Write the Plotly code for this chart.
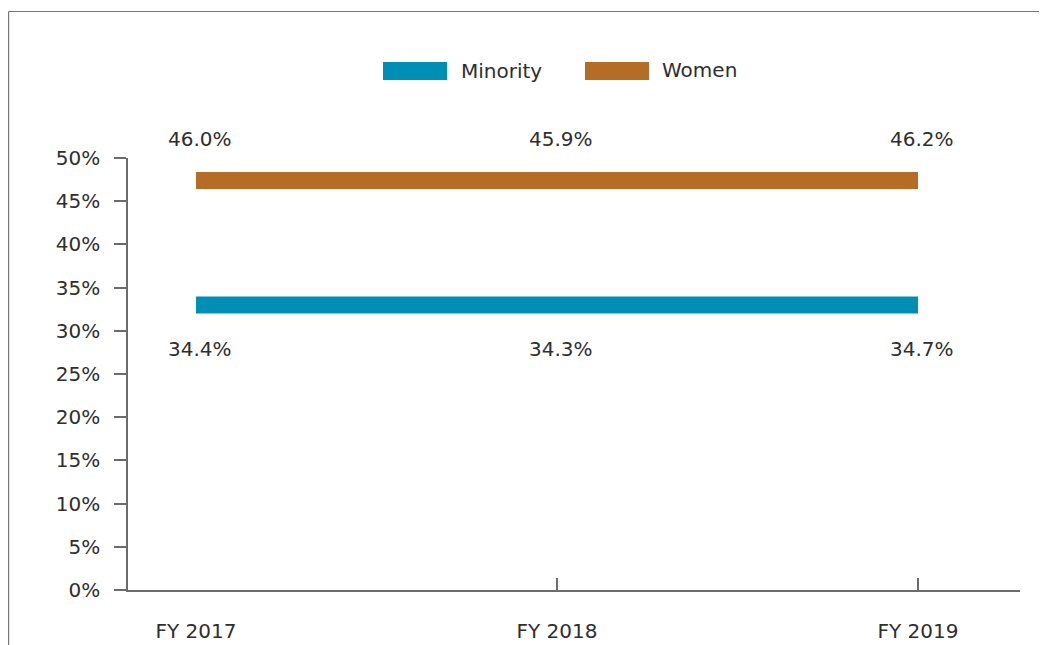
import plotly.graph_objects as go

# ---- data ----
categories = ["FY 2017", "FY 2018", "FY 2019"]
minority_labels = [34.4, 34.3, 34.7]
women_labels = [46.0, 45.9, 46.2]
# line positions as drawn in the reference chart
minority_line = [33.0, 33.0, 33.0]
women_line = [47.4, 47.4, 47.4]
series_names = ["Minority", "Women"]
colors = ["#008FB4", "#B56C26"]
y_ticks = [0, 5, 10, 15, 20, 25, 30, 35, 40, 45, 50]

W, H = 1047, 645
OFF = 8  # page offset of the figure in the browser
# plot area in reference-picture pixels
RL, RR, RT, RB = 128, 1020, 158, 590
L, R, T, B = RL - OFF, RR - OFF, RT - OFF, RB - OFF
TEXT = "#2e2e2e"
AX = "#6b6b6b"
FONT = "DejaVu Sans"
FS = 20

def px_x(p):  # reference x pixel -> paper
    return (p - OFF - L) / (R - L)

def px_y(p):  # reference y pixel -> paper
    return (B - (p - OFF)) / (B - T)

xi = list(range(len(categories)))
x_range = [-0.1884, 2.2825]

fig = go.Figure()
for name, vals, col in [(series_names[0], minority_line, colors[0]),
                        (series_names[1], women_line, colors[1])]:
    fig.add_trace(go.Scatter(x=xi, y=vals, mode="lines", name=name,
                             line=dict(color=col, width=17),
                             showlegend=False, hoverinfo="skip"))
# invisible trace to hold the tick-only axis
fig.add_trace(go.Scatter(x=[0], y=[0], xaxis="x2", mode="markers",
                         marker=dict(opacity=0), showlegend=False, hoverinfo="skip"))

annotations = []
for i, v in enumerate(women_labels):
    annotations.append(dict(x=xi[i], y=women_line[i], xref="x", yref="y",
                            text=f"{v:.1f}%", showarrow=False, xshift=4, yshift=41,
                            xanchor="center", yanchor="middle",
                            font=dict(family=FONT, size=FS, color=TEXT)))
for i, v in enumerate(minority_labels):
    annotations.append(dict(x=xi[i], y=minority_line[i], xref="x", yref="y",
                            text=f"{v:.1f}%", showarrow=False, xshift=4, yshift=-44,
                            xanchor="center", yanchor="middle",
                            font=dict(family=FONT, size=FS, color=TEXT)))

# manual legend
shapes = []
leg = [(383, 447, 459, 71), (585, 649, 660, 70)]
for (x0, x1, tx, ty), name, col in zip(leg, series_names, colors):
    shapes.append(dict(type="rect", xref="paper", yref="paper",
                       x0=px_x(x0), x1=px_x(x1), y0=px_y(80), y1=px_y(62),
                       fillcolor=col, line=dict(width=0)))
    annotations.append(dict(x=px_x(tx), y=px_y(ty), xref="paper", yref="paper",
                            text=name, showarrow=False, xanchor="left", yanchor="middle",
                            font=dict(family=FONT, size=FS, color=TEXT)))

# outer frame (top and left edges)
fx = px_x(OFF + 0.6)
fy = px_y(11.5)
shapes.append(dict(type="line", xref="paper", yref="paper",
                   x0=fx, x1=px_x(1080), y0=fy, y1=fy,
                   line=dict(color="#777777", width=1.2)))
shapes.append(dict(type="line", xref="paper", yref="paper",
                   x0=fx, x1=fx, y0=fy, y1=px_y(680),
                   line=dict(color="#777777", width=1.2)))

fig.update_layout(
    width=W, height=H,
    margin=dict(l=L, r=W - R, t=T, b=H - B, autoexpand=False),
    paper_bgcolor="white", plot_bgcolor="white",
    font=dict(family=FONT, size=FS, color=TEXT),
    showlegend=False,
    xaxis=dict(range=x_range, tickmode="array", tickvals=xi, ticktext=categories,
               ticks="", showline=True, linecolor=AX, linewidth=1.5,
               showgrid=False, zeroline=False, ticklabelstandoff=22, automargin=False,
               tickfont=dict(family=FONT, size=FS, color=TEXT)),
    xaxis2=dict(range=x_range, overlaying="x", anchor="y", side="bottom",
                tickmode="array", tickvals=[1, 2, x_range[1]],
                ticks="inside", ticklen=12, tickwidth=1.5, tickcolor=AX, automargin=False,
                showticklabels=False, showline=False, showgrid=False, zeroline=False),
    yaxis=dict(range=[0, 50], tickmode="array", tickvals=y_ticks,
               ticktext=[f"{t}%" for t in y_ticks],
               ticks="outside", ticklen=12, tickwidth=1.5, tickcolor=AX,
               showline=True, linecolor=AX, linewidth=1.5, automargin=False,
               showgrid=False, zeroline=False, ticklabelstandoff=10,
               tickfont=dict(family=FONT, size=FS, color=TEXT)),
    annotations=annotations,
    shapes=shapes,
)

fig.write_html("out.html")
